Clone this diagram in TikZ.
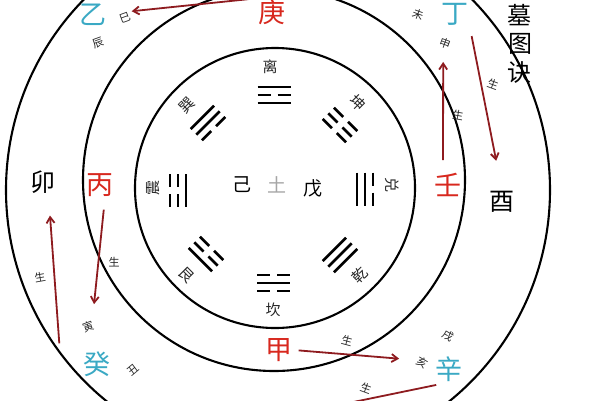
\documentclass[tikz,border=0pt]{standalone}
\usepackage{fontspec}
\newfontfamily\cjk{Noto Sans CJK SC}
\usetikzlibrary{arrows.meta}
\definecolor{stemred}{HTML}{D8281E}
\definecolor{stemcyan}{HTML}{3AA9C4}
\definecolor{arrred}{HTML}{8E1B1F}
\newcommand\trigline[2]{\ifnum#1=1 \draw[tline] (-16.5,#2)--(16.5,#2);\else\draw[tline] (-16.5,#2)--(-3.5,#2) (3.5,#2)--(16.5,#2);\fi}
\newcommand\trigram[6]{%
  \begin{scope}[shift={(#1,#2)},rotate=#3]
    \trigline{#4}{8}\trigline{#5}{0}\trigline{#6}{-8}
  \end{scope}}
\tikzset{
  ring/.style={line width=2.1pt,draw=black},
  tline/.style={line width=2.6pt,draw=black},
  redstem/.style={font=\cjk\fontsize{27}{27}\selectfont,text=stemred,inner sep=1pt},
  cyanstem/.style={font=\cjk\fontsize{27}{27}\selectfont,text=stemcyan,inner sep=1pt},
  branch/.style={font=\cjk\fontsize{25}{25}\selectfont,text=black,inner sep=1pt},
  gua/.style={font=\cjk\fontsize{15}{15}\selectfont,text=black!85,inner sep=0pt},
  tiny/.style={font=\cjk\fontsize{11}{11}\selectfont,text=black!85,inner sep=0pt},
  mid/.style={font=\cjk\fontsize{19}{19}\selectfont,text=black,inner sep=1pt},
  title/.style={font=\cjk\fontsize{24}{24}\selectfont,text=black,inner sep=0pt},
  arr/.style={draw=arrred,line width=1.8pt,-{Straight Barb[length=6pt,width=8pt]}},
}
\begin{document}
\begin{tikzpicture}[x=1pt,y=-1pt]
\useasboundingbox (0,0) rectangle (600,400);
\clip (0,0) rectangle (600,400);
\fill[white] (0,0) rectangle (600,400);
% circles
\draw[ring] (278,190) circle (272pt);
\draw[ring] (274,180) circle (191pt);
\draw[ring] (275,188) circle (140pt);
% trigrams
\trigram{274}{95}{0}{1}{0}{1}
\trigram{340}{125}{-45}{0}{0}{0}
\trigram{365}{189}{-90}{1}{1}{0}
\trigram{340}{255}{-135}{1}{1}{1}
\trigram{273}{283}{-180}{0}{1}{0}
\trigram{206}{254}{135}{0}{0}{1}
\trigram{178}{190}{90}{1}{0}{0}
\trigram{208}{123}{45}{0}{1}{1}
% trigram names
\node[gua] (li) at (270,67) {离};
\node[gua,rotate=-45] (kun) at (358,103) {坤};
\node[gua,rotate=-90] (dui) at (392,185) {兑};
\node[gua,rotate=45] (qian) at (360,275) {乾};
\node[gua] (kan) at (273,310) {坎};
\node[gua,rotate=-45] (gen) at (187,275) {艮};
\node[gua,rotate=90] (zhen) at (153,188) {震};
\node[gua,rotate=45] (xun) at (187,105) {巽};
% centre
\node[mid] (ji) at (242,185) {己};
\node[mid,text=black!35] (tu) at (277,185) {土};
\node[mid] (wu) at (313,188) {戊};
% stems and branches
\node[redstem] (geng) at (272,12) {庚};
\node[redstem] (bing) at (100,185) {丙};
\node[redstem] (ren) at (448,185) {壬};
\node[redstem] (jia) at (279,350) {甲};
\node[cyanstem] (yi) at (93,15) {乙};
\node[cyanstem] (ding) at (455,14) {丁};
\node[cyanstem] (xin) at (449,369) {辛};
\node[cyanstem] (gui) at (97,364) {癸};
\node[branch] (mao) at (43,182) {卯};
\node[branch] (you) at (502,202) {酉};
% title
\node[title] (tmu) at (519,15) {墓};
\node[title] (ttu) at (520,44) {图};
\node[title] (tjue) at (519,73) {诀};
% small annotations
\node[tiny,rotate=20] (si) at (125,18) {巳};
\node[tiny,rotate=20] (chen) at (98,43) {辰};
\node[tiny,rotate=-20] (wei) at (418,14) {未};
\node[tiny,rotate=-20] (shen) at (445,43) {申};
\node[tiny,rotate=20] (yin) at (88,327) {寅};
\node[tiny,rotate=40] (chou) at (133,370) {丑};
\node[tiny,rotate=-30] (xu) at (448,336) {戌};
\node[tiny,rotate=-30] (hai) at (422,363) {亥};
\node[tiny,rotate=-20] (s1) at (493,84) {生};
\node[tiny,rotate=-10] (s2) at (458,115) {生};
\node[tiny] (s3) at (114,262) {生};
\node[tiny,rotate=10] (s4) at (40,277) {生};
\node[tiny,rotate=-15] (s5) at (347,341) {生};
\node[tiny,rotate=-20] (s6) at (366,388) {生};
\coordinate (zi) at (300,413);
% arrows
\draw[arr,shorten <=9pt,shorten >=3pt] (geng.north west) -- (si.north east);
\draw[arr,shorten <=12pt,shorten >=14pt] ([xshift=-5pt]ren.north) -- (shen.south);
\draw[arr,shorten <=10pt,shorten >=30pt] (ding.south east) -- (you.north);
\draw[arr,shorten <=12pt,shorten >=18pt] ([xshift=5pt]bing.south) -- ([xshift=6pt]yin.north);
\draw[arr] ([xshift=-23pt,yshift=7pt]gui.north west) -- ([xshift=7pt,yshift=-21pt]mao.south);
\draw[arr,shorten <=5pt,shorten >=18pt] (jia.east) -- (hai.west);
\draw[arr,shorten <=11pt] ([xshift=-2pt]xin.south) -- (zi);
\end{tikzpicture}
\end{document}
